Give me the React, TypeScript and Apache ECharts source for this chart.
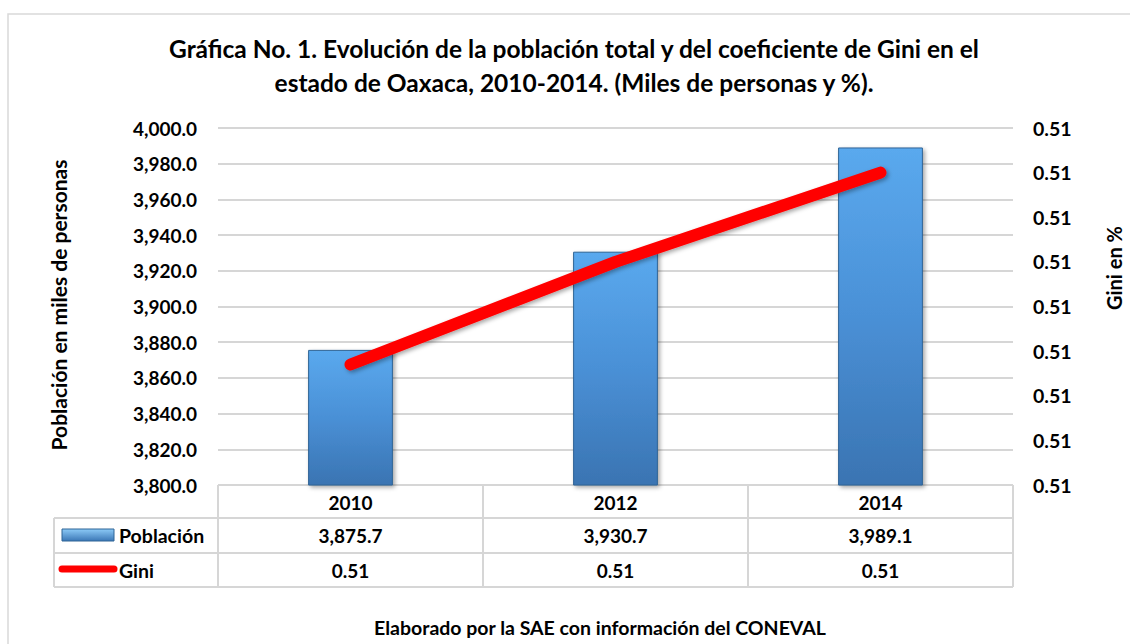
import React, { useEffect, useRef } from "react";
import * as echarts from "echarts";

const categories = ["2010", "2012", "2014"];
const poblacion = [3875.7, 3930.7, 3989.1];
const gini = [0.50935, 0.5105, 0.5115];
const leftTicks = { min: 3800, max: 4000, interval: 20 };
const rightTicks = { min: 0.508, max: 0.512, interval: 0.0005 };

const titleLines = [
  "Gráfica No. 1. Evolución de la población total y del coeficiente de Gini en el",
  "estado de Oaxaca, 2010-2014. (Miles de personas y %).",
];
const yLeftName = "Población en miles de personas";
const yRightName = "Gini en %";
const footer = "Elaborado por la SAE con información del CONEVAL";
const seriesNames = ["Población", "Gini"];

const FONT = "Lato, 'Noto Sans', sans-serif";

const fmtPop = (v: number) =>
  v.toLocaleString("en-US", { minimumFractionDigits: 1, maximumFractionDigits: 1 });
const fmtGini = (v: number) => v.toFixed(2);

export default function App() {
  const ref = useRef<HTMLDivElement>(null);
  useEffect(() => {
    if (!ref.current) return;
    const chart = echarts.init(ref.current, undefined, { renderer: "svg" });

    const gridL = 218, gridR = 1013, gridT = 128, gridB = 485;
    const tableL = 54;
    const colW = (gridR - gridL) / categories.length;
    const rowY = [gridB, 518, 553, 587];
    const lineColor = "#d6d6d6";

    const barGrad = new echarts.graphic.LinearGradient(0, 0, 0, 1, [
      { offset: 0, color: "#5aa9ee" },
      { offset: 0.5, color: "#4a90d6" },
      { offset: 1, color: "#3a74b2" },
    ]);
    const legendGrad = new echarts.graphic.LinearGradient(0, 0, 0, 1, [
      { offset: 0, color: "#8ccaf7" },
      { offset: 1, color: "#3b77b6" },
    ]);

    const graphics: any[] = [];
    graphics.push({
      type: "rect",
      shape: { x: 8, y: 14, width: 1150, height: 660 },
      style: { fill: "none", stroke: "#d9d9d9", lineWidth: 1.5 },
      silent: true,
    });
    titleLines.forEach((t, i) => {
      graphics.push({
        type: "text",
        x: 574,
        y: 48 + i * 34,
        style: {
          text: t,
          fill: "#000",
          font: `bold 24.5px ${FONT}`,
          textAlign: "center",
          textVerticalAlign: "middle",
        },
      });
    });
    // axis names
    graphics.push({
      type: "text",
      x: 58,
      y: 305,
      rotation: Math.PI / 2,
      style: {
        text: yLeftName,
        fill: "#000",
        font: `bold 21px ${FONT}`,
        textAlign: "center",
        textVerticalAlign: "middle",
      },
    });
    graphics.push({
      type: "text",
      x: 1114,
      y: 268,
      rotation: Math.PI / 2,
      style: {
        text: yRightName,
        fill: "#000",
        font: `bold 20px ${FONT}`,
        textAlign: "center",
        textVerticalAlign: "middle",
      },
    });
    const hl = (x1: number, x2: number, y: number) =>
      graphics.push({
        type: "line",
        shape: { x1, y1: y, x2, y2: y },
        style: { stroke: lineColor, lineWidth: 2 },
        silent: true,
      });
    const vl = (x: number, y1: number, y2: number) =>
      graphics.push({
        type: "line",
        shape: { x1: x, y1, x2: x, y2 },
        style: { stroke: lineColor, lineWidth: 2 },
        silent: true,
      });
    hl(gridL, gridR, rowY[0]);
    hl(tableL, gridR, rowY[1]);
    hl(tableL, gridR, rowY[2]);
    hl(tableL, gridR, rowY[3]);
    vl(tableL, rowY[1], rowY[3]);
    for (let i = 0; i <= categories.length; i++) vl(gridL + i * colW, rowY[0], rowY[3]);

    graphics.push({
      type: "rect",
      shape: { x: 62, y: 529, width: 52, height: 12 },
      style: { fill: legendGrad, stroke: "#2f6496", lineWidth: 1 },
    });
    graphics.push({
      type: "line",
      shape: { x1: 62, y1: 569, x2: 114, y2: 569 },
      style: { stroke: "#ff0000", lineWidth: 7, lineCap: "round" },
    });
    seriesNames.forEach((n, i) => {
      graphics.push({
        type: "text",
        x: 119,
        y: (rowY[i + 1] + rowY[i + 2]) / 2,
        style: {
          text: n,
          fill: "#000",
          font: `bold 19.5px ${FONT}`,
          textAlign: "left",
          textVerticalAlign: "middle",
        },
      });
    });
    categories.forEach((_, i) => {
      const cx = gridL + (i + 0.5) * colW;
      graphics.push({
        type: "text",
        x: cx,
        y: (rowY[1] + rowY[2]) / 2,
        style: {
          text: fmtPop(poblacion[i]),
          fill: "#000",
          font: `bold 19px ${FONT}`,
          textAlign: "center",
          textVerticalAlign: "middle",
        },
      });
      graphics.push({
        type: "text",
        x: cx,
        y: (rowY[2] + rowY[3]) / 2,
        style: {
          text: fmtGini(gini[i]),
          fill: "#000",
          font: `bold 19px ${FONT}`,
          textAlign: "center",
          textVerticalAlign: "middle",
        },
      });
    });
    graphics.push({
      type: "text",
      x: 600,
      y: 627,
      style: {
        text: footer,
        fill: "#000",
        font: `bold 19.5px ${FONT}`,
        textAlign: "center",
        textVerticalAlign: "middle",
      },
    });

    chart.setOption({
      animation: false,
      backgroundColor: "#fff",
      textStyle: { fontFamily: FONT },
      grid: { left: gridL, right: 1130 - gridR, top: gridT, bottom: 644 - gridB, containLabel: false },
      xAxis: {
        type: "category",
        data: categories,
        axisLine: { show: false },
        axisTick: { show: false },
        axisLabel: { color: "#000", fontWeight: "bold", fontSize: 19, margin: 8, fontFamily: FONT },
      },
      yAxis: [
        {
          type: "value",
          min: leftTicks.min,
          max: leftTicks.max,
          interval: leftTicks.interval,
          axisLine: { show: false },
          axisTick: { show: false },
          axisLabel: {
            color: "#000",
            fontWeight: "bold",
            fontSize: 19,
            margin: 21,
            fontFamily: FONT,
            formatter: (v: number) => fmtPop(v),
          },
          splitLine: { lineStyle: { color: lineColor, width: 2 } },
        },
        {
          type: "value",
          min: rightTicks.min,
          max: rightTicks.max,
          interval: rightTicks.interval,
          axisLine: { show: false },
          axisTick: { show: false },
          splitLine: { show: false },
          axisLabel: {
            color: "#000",
            fontWeight: "bold",
            fontSize: 19.5,
            margin: 20,
            fontFamily: FONT,
            formatter: (v: number) => fmtGini(v),
          },
        },
      ],
      series: [
        {
          name: seriesNames[0],
          type: "bar",
          data: poblacion,
          barWidth: "32%",
          itemStyle: {
            color: barGrad,
            borderColor: "#2f6496",
            borderWidth: 1,
            shadowBlur: 4,
            shadowColor: "rgba(0,0,0,0.35)",
            shadowOffsetX: 2,
            shadowOffsetY: 2,
          },
        },
        {
          name: seriesNames[1],
          type: "line",
          yAxisIndex: 1,
          data: gini,
          symbol: "none",
          lineStyle: {
            color: "#ff0000",
            width: 12,
            cap: "round",
            join: "round",
            shadowBlur: 4,
            shadowColor: "rgba(0,0,0,0.35)",
            shadowOffsetX: 2,
            shadowOffsetY: 2,
          },
        },
      ],
      graphic: graphics,
    });
    return () => chart.dispose();
  }, []);
  return (
    <div
      ref={ref}
      style={{ position: "fixed", left: 0, top: 0, width: 1130, height: 644 }}
    />
  );
}
